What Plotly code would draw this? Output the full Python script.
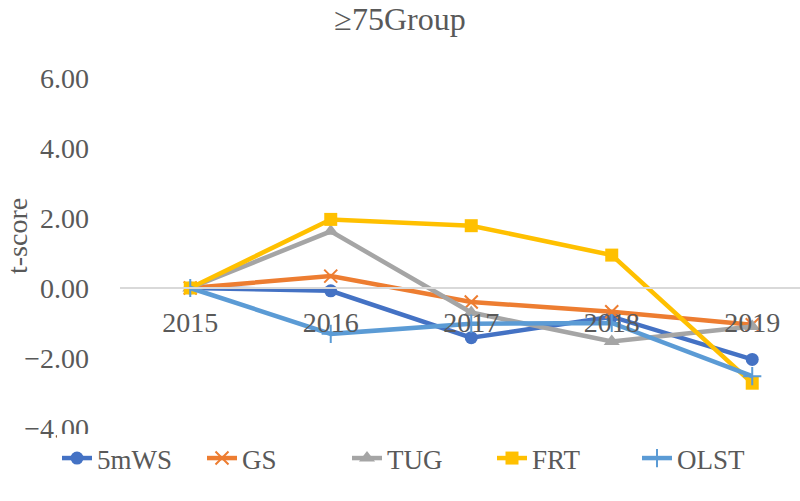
import plotly.graph_objects as go

years = ["2015", "2016", "2017", "2018", "2019"]
s_5mws = [0.0, -0.08, -1.42, -0.82, -2.04]
s_gs = [0.0, 0.34, -0.40, -0.68, -1.05]
s_tug = [0.0, 1.62, -0.70, -1.53, -1.10]
s_frt = [0.0, 1.96, 1.78, 0.94, -2.72]
s_olst = [0.0, -1.31, -1.02, -1.00, -2.52]
y_ticks = [-4, -2, 0, 2, 4, 6]

FONT = "Liberation Serif, Times New Roman, serif"
GREY = "#595959"
W, H = 800, 501
MT, MB = 18, 18
PH = H - MT - MB
PB = H - MB  # pixel row of paper bottom


def py(p):
    """pixel row -> paper fraction"""
    return (PB - p) / PH


series = [
    ("5mWS", s_5mws, "#4472C4", "circle", 13, None),
    ("GS", s_gs, "#ED7D31", "x-thin", 13, 2),
    ("TUG", s_tug, "#A5A5A5", "triangle-up", 14, None),
    ("FRT", s_frt, "#FFC000", "square", 13, None),
    ("OLST", s_olst, "#5B9BD5", "cross-thin", 13, 2),
]

fig = go.Figure()
for name, vals, col, sym, sz, lw in series:
    marker = dict(symbol=sym, size=sz, color=col)
    if lw:
        marker["line"] = dict(color=col, width=lw)
    fig.add_trace(go.Scatter(
        x=years, y=vals, name=name, mode="lines+markers",
        line=dict(color=col, width=4.5), marker=marker,
    ))

fig.update_layout(
    width=W, height=H,
    margin=dict(l=0, r=0, t=MT, b=MB),
    paper_bgcolor="white", plot_bgcolor="white",
    font=dict(family=FONT, color=GREY, size=28),
    title=dict(text="≥75Group", x=0.5, xref="container", xanchor="center",
               y=1 - 19 / H, yref="container", yanchor="middle",
               font=dict(family=FONT, size=32, color=GREY)),
    showlegend=True,
    legend=dict(orientation="h", x=57 / W, xanchor="left", xref="paper",
                y=0, yref="paper", yanchor="bottom",
                font=dict(family=FONT, size=27, color=GREY),
                entrywidth=100, entrywidthmode="pixels",
                itemwidth=30, tracegroupgap=0),
    xaxis=dict(type="category", range=[-0.5, 4.34], domain=[120 / W, 1],
               anchor="free", position=py(288), automargin=False,
               showline=True, linecolor="#D9D9D9", linewidth=1.5,
               showgrid=False, zeroline=False, ticks="",
               ticklabelstandoff=10,
               tickfont=dict(family=FONT, size=28, color=GREY)),
    yaxis=dict(range=[-4, 6], tickvals=y_ticks, tickformat=".2f",
               domain=[py(428), py(78)], automargin=False,
               showgrid=False, zeroline=False, showline=False, ticks="",
               ticklabelstandoff=30,
               tickfont=dict(family=FONT, size=28, color=GREY)),
    annotations=[dict(text="t-score", textangle=-90, xref="paper", yref="paper",
                      x=17 / W, y=py(236),
                      xanchor="center", yanchor="middle", showarrow=False,
                      font=dict(family=FONT, size=28, color=GREY))],
)

fig.write_html("out.html", config={"displayModeBar": False},
               post_script="document.body.style.margin='0';")
